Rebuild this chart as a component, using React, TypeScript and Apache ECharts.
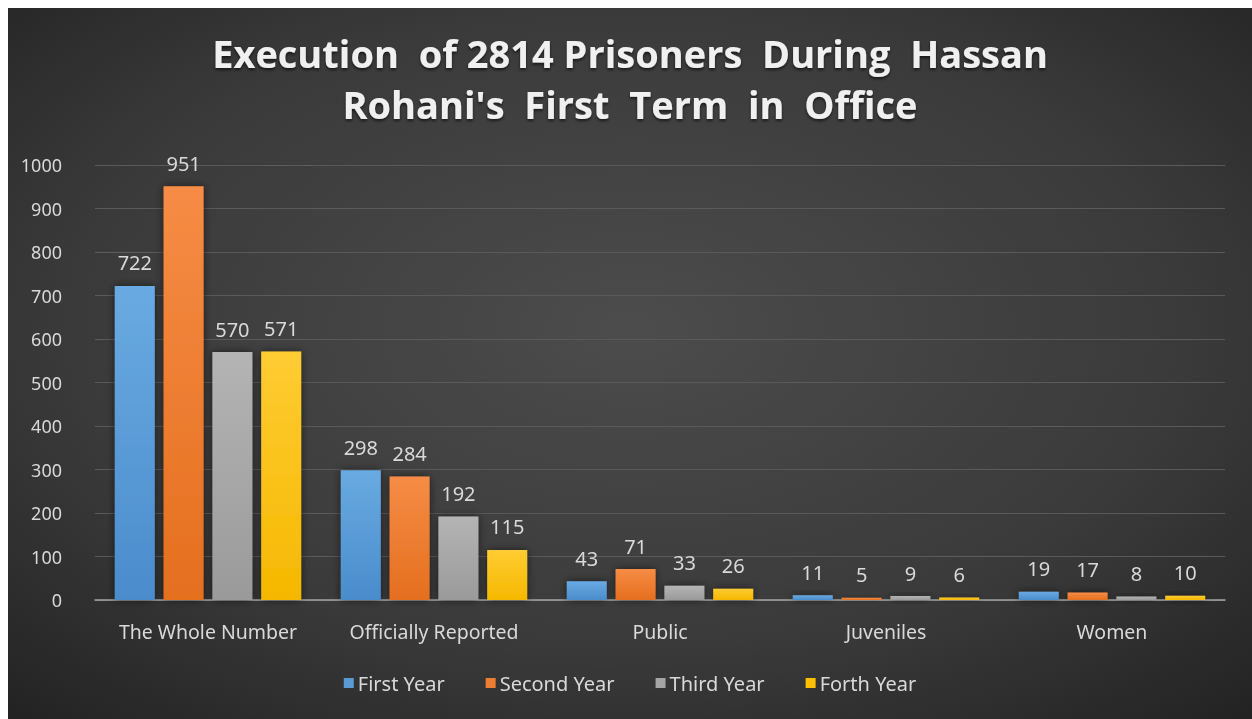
import React, { useEffect, useRef } from "react";
import * as echarts from "echarts";

const categories = ["The Whole Number", "Officially Reported", "Public", "Juveniles", "Women"];
const seriesNames = ["First Year", "Second Year", "Third Year", "Forth Year"];
const firstYear = [722, 298, 43, 11, 19];
const secondYear = [951, 284, 71, 5, 17];
const thirdYear = [570, 192, 33, 9, 8];
const forthYear = [571, 115, 26, 6, 10];
const yTicks = { min: 0, max: 1000, interval: 100 };
const titleText = "Execution  of 2814 Prisoners  During  Hassan\nRohani's  First  Term  in  Office";

const colors = [
  ["#6aaae2", "#4a8ccc"],
  ["#f68c45", "#e56f1f"],
  ["#b4b4b4", "#9a9a9a"],
  ["#ffcc33", "#f5b800"],
];
const legendColors = ["#5b9bd5", "#ed7d31", "#a5a5a5", "#ffc000"];

export default function App() {
  const ref = useRef<HTMLDivElement>(null);
  useEffect(() => {
    if (!ref.current) return;
    const chart = echarts.init(ref.current, null, { renderer: "svg" });
    const data = [firstYear, secondYear, thirdYear, forthYear];
    chart.setOption({
      animation: false,
      backgroundColor: {
        type: "radial",
        x: 0.5,
        y: 0.45,
        r: 0.75,
        colorStops: [
          { offset: 0, color: "#4c4c4c" },
          { offset: 0.6, color: "#3a3a3a" },
          { offset: 1, color: "#222222" },
        ],
      },
      title: {
        text: titleText,
        left: "center",
        top: 14,
        textStyle: {
          fontFamily: "Open Sans",
          fontWeight: "bold",
          fontSize: 38,
          lineHeight: 51,
          color: "#f0f0f0",
          textShadowColor: "rgba(0,0,0,0.6)",
          textShadowBlur: 3,
          textShadowOffsetY: 2,
        },
      },
      legend: {
        data: seriesNames.map((n, i) => ({ name: n, itemStyle: { color: legendColors[i] } })),
        bottom: 21,
        left: "center",
        itemWidth: 10,
        itemHeight: 10,
        itemGap: 41,
        icon: "rect",
        textStyle: { color: "#d9d9d9", fontSize: 20, fontFamily: "Noto Sans", padding: [0, 0, 0, -1] },
      },
      grid: { left: 87, right: 27, top: 157, bottom: 119, containLabel: false },
      xAxis: {
        type: "category",
        data: categories,
        axisLine: { lineStyle: { color: "#a6a6a6", width: 1.5 } },
        axisTick: { show: false },
        axisLabel: {
          color: "#d9d9d9",
          fontSize: 19.5,
          fontFamily: "Noto Sans",
          margin: 21,
          interval: 0,
        },
      },
      yAxis: {
        type: "value",
        min: yTicks.min,
        max: yTicks.max,
        interval: yTicks.interval,
        axisLine: { show: false },
        axisTick: { show: false },
        axisLabel: {
          color: "#d9d9d9",
          fontSize: 18,
          fontFamily: "Noto Sans",
          margin: 33,
          formatter: (v: number) => String(v),
        },
        splitLine: { lineStyle: { color: "#5a5a5a", width: 1 } },
      },
      series: data.map((d, i) => ({
        name: seriesNames[i],
        type: "bar",
        data: d,
        barWidth: 40,
        barGap: "22%",
        itemStyle: {
          color: {
            type: "linear",
            x: 0,
            y: 0,
            x2: 0,
            y2: 1,
            colorStops: [
              { offset: 0, color: colors[i][0] },
              { offset: 1, color: colors[i][1] },
            ],
          },
          shadowColor: "rgba(0,0,0,0.55)",
          shadowBlur: 8,
        },
        label: {
          show: true,
          position: "top",
          distance: 13,
          color: "#d9d9d9",
          fontSize: 20,
          fontFamily: "Noto Sans",
        },
      })),
    });
    return () => chart.dispose();
  }, []);
  return (
    <div
      ref={ref}
      style={{ position: "fixed", left: 8, top: 8, width: 1244, height: 711 }}
    />
  );
}
